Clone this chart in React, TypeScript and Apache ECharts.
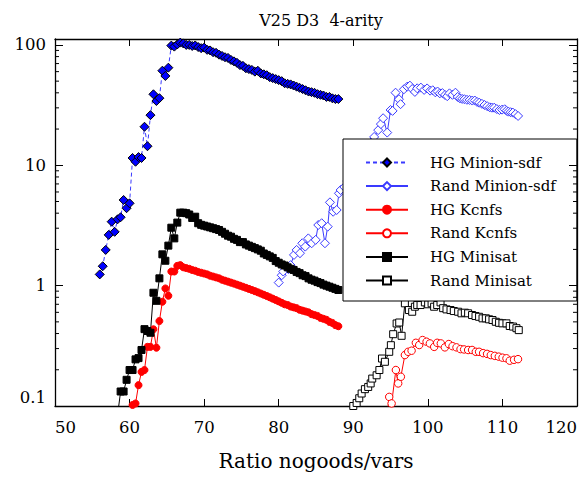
import React, { useEffect, useRef } from "react";
import * as echarts from "echarts";

const TITLE = "V25 D3  4-arity";
const X_NAME = "Ratio nogoods/vars";
const NAMES = ["HG Minion-sdf", "Rand Minion-sdf", "HG Kcnfs", "Rand Kcnfs", "HG Minisat", "Rand Minisat"];

const HG_MINION: [number, number][] = [
  [56.0,1.24],[56.4,1.45],[56.8,1.98],[57.2,2.64],[57.6,3.4],[58.0,2.8],[58.4,3.56],[58.8,3.7],[59.2,5.15],[59.6,4.4],
  [60.0,4.83],[60.4,11.5],[60.8,10.7],[61.2,11.7],[61.6,11.5],[62.0,20.9],[62.4,14.4],[62.8,26.1],[63.2,38.9],[63.6,34.2],
  [64.0,36.1],[64.4,61.1],[64.8,55.2],[65.2,64.7],[65.6,98.7],[66.0,96.8],[66.4,101],[66.8,104.5],[67.2,103],[67.6,100],
  [68.0,100],[68.4,98],[68.8,99],[69.2,96],[69.6,94],[70.0,95],[70.4,91],[70.8,90],[71.2,87],[71.6,86],
  [72.0,83],[72.4,81],[72.8,79],[73.2,78],[73.6,75],[74.0,73],[74.4,71],[74.8,68],[75.2,67],[75.6,64],
  [76.0,63],[76.4,62],[76.8,60],[77.2,61],[77.6,58],[78.0,57],[78.4,56],[78.8,54],[79.2,53],[79.6,52],
  [80.0,51],[80.4,50],[80.8,48],[81.2,47.5],[81.6,47],[82.0,46],[82.4,45],[82.8,44],[83.2,43],[83.6,42],
  [84.0,41],[84.4,40.5],[84.8,40],[85.2,39],[85.6,38.5],[86.0,38],[86.4,37],[86.8,37],[87.2,36],[87.6,35.5],[88.0,35.5]
];

const RAND_MINION: [number, number][] = [
  [80.0,1.06],[80.4,1.22],[80.6,1.31],[81.3,1.37],[81.6,1.48],[82.05,1.8],[82.4,1.98],[82.85,1.86],[83.16,2.25],[83.56,2.11],
  [83.97,2.47],[84.42,2.25],[84.96,2.4],[85.3,3.19],[85.76,3.3],[86.2,2.25],[86.57,3.09],[86.87,4.92],[87.3,4.11],[87.77,4.25],
  [88.08,5.85],[88.3,6.23],[88.8,6.6],[89.2,7.4],[89.6,8.0],[90.0,8.7],[90.4,9.5],[90.8,10.5],[91.2,11.5],[91.6,12.6],
  [92.0,14.0],[92.4,15.5],[92.8,17.2],[93.34,19.6],[93.7,22.0],[94.0,24.6],[94.55,18.7],[95.0,28.8],[95.27,28.3],[95.67,40.1],
  [96.12,35.4],[96.34,32.2],[96.79,42.8],[97.23,45.0],[97.59,45.9],[97.9,43.0],[98.26,40.7],[98.57,43.6],[99.06,44.2],[99.5,42.3],
  [99.9,43.5],[100.3,41.7],[100.65,42.0],[101.0,40.4],[101.3,41.0],[101.6,39.6],[101.95,39.8],[102.3,38.4],[102.6,37.5],[102.9,39.6],
  [103.3,38.5],[103.7,40.1],[104.0,37.0],[104.3,36.0],[104.6,35.6],[104.9,35.4],[105.25,35.0],[105.6,34.9],[105.95,34.5],[106.3,34.5],
  [106.6,33.6],[106.9,33.1],[107.25,32.4],[107.6,31.7],[107.95,31.0],[108.3,30.3],[108.6,30.1],[108.9,30.1],[109.25,29.3],[109.6,28.8],
  [109.95,29.0],[110.3,29.2],[110.55,28.4],[110.8,27.9],[111.1,27.6],[111.4,27.4],[111.75,26.6],[112.1,25.7]
];

const HG_KCNFS: [number, number][] = [
  [60.0,0.085],[60.4,0.102],[60.8,0.105],[61.2,0.149],[61.6,0.192],[62.0,0.199],[62.4,0.31],[62.8,0.31],[63.2,0.434],[63.6,0.305],
  [64.0,0.508],[64.4,0.735],[64.8,0.948],[65.2,0.824],[65.6,1.31],[66.0,1.31],[66.4,1.46],[66.8,1.48],[67.2,1.42],[67.6,1.4],
  [68.0,1.38],[68.4,1.35],[68.8,1.33],[69.2,1.3],[69.6,1.28],[70.0,1.26],[70.4,1.24],[70.8,1.21],[71.2,1.19],[71.6,1.17],
  [72.0,1.15],[72.4,1.12],[72.8,1.1],[73.2,1.08],[73.6,1.06],[74.0,1.04],[74.4,1.02],[74.8,1.0],[75.2,0.98],[75.6,0.96],
  [76.0,0.94],[76.4,0.92],[76.8,0.9],[77.2,0.88],[77.6,0.86],[78.0,0.84],[78.4,0.82],[78.8,0.8],[79.2,0.78],[79.6,0.76],
  [80.0,0.74],[80.4,0.72],[80.8,0.7],[81.2,0.69],[81.6,0.67],[82.0,0.66],[82.4,0.65],[82.8,0.63],[83.2,0.62],[83.6,0.61],
  [84.0,0.6],[84.4,0.58],[84.8,0.57],[85.2,0.56],[85.6,0.54],[86.0,0.53],[86.4,0.52],[86.8,0.5],[87.2,0.49],[87.6,0.47],[88.0,0.46]
];

const RAND_KCNFS: [number, number][] = [
  [94.5,0.08],[94.82,0.119],[95.14,0.105],[95.71,0.199],[96.02,0.154],[96.38,0.175],[96.92,0.265],[97.36,0.282],[97.82,0.288],[98.39,0.335],
  [98.84,0.321],[99.29,0.353],[99.83,0.342],[100.27,0.331],[100.85,0.31],[101.25,0.335],[101.74,0.331],[102.28,0.307],[102.81,0.327],[103.31,0.314],
  [103.84,0.307],[104.38,0.297],[104.86,0.295],[105.4,0.292],[105.93,0.292],[106.43,0.282],[106.87,0.282],[107.41,0.275],[107.94,0.271],[108.44,0.265],
  [108.98,0.261],[109.51,0.257],[110.01,0.252],[110.54,0.249],[110.98,0.238],[111.56,0.242],[112.09,0.245]
];

const HG_MINISAT: [number, number][] = [
  [58.4,0.085],[58.8,0.132],[59.2,0.132],[59.6,0.165],[60.0,0.199],[60.4,0.199],[60.8,0.244],[61.2,0.25],[61.6,0.292],[62.0,0.435],
  [62.4,0.42],[62.8,0.406],[63.2,0.873],[63.6,0.748],[64.0,1.15],[64.4,1.82],[64.8,1.61],[65.2,2.15],[65.6,3.03],[66.0,2.47],
  [66.4,3.34],[66.8,4.04],[67.2,4.04],[67.6,4.0],[68.0,3.9],[68.4,3.65],[68.8,3.74],[69.2,3.3],[69.6,3.2],[70.0,3.15],
  [70.4,3.1],[70.8,3.05],[71.2,3.0],[71.6,2.95],[72.0,2.9],[72.4,2.8],[72.8,2.7],[73.2,2.6],[73.6,2.55],[74.0,2.45],
  [74.4,2.4],[74.8,2.3],[75.2,2.3],[75.6,2.2],[76.0,2.15],[76.4,2.1],[76.8,2.05],[77.2,2.0],[77.6,1.95],[78.0,1.85],
  [78.4,1.8],[78.8,1.75],[79.2,1.7],[79.6,1.6],[80.0,1.55],[80.4,1.5],[80.8,1.47],[81.2,1.42],[81.6,1.38],[82.0,1.35],
  [82.4,1.3],[82.8,1.27],[83.2,1.22],[83.6,1.2],[84.0,1.15],[84.4,1.12],[84.8,1.1],[85.2,1.07],[85.6,1.05],[86.0,1.02],
  [86.4,1.0],[86.8,0.98],[87.2,0.96],[87.6,0.94],[88.0,0.92]
];

const RAND_MINISAT: [number, number][] = [
  [89.11,0.099],[89.6,0.095],[90.0,0.1],[90.45,0.106],[90.8,0.116],[91.12,0.127],[91.56,0.138],[92.0,0.144],[92.33,0.154],[92.54,0.169],
  [93.13,0.18],[93.5,0.199],[93.85,0.248],[94.24,0.233],[94.82,0.282],[95.04,0.32],[95.35,0.395],[95.81,0.485],[96.16,0.494],[96.48,0.383],
  [96.92,0.713],[97.46,0.627],[97.9,0.607],[98.26,0.668],[98.57,0.69],[99.02,0.69],[99.6,0.726],[100.04,0.7],[100.5,0.713],[100.84,0.668],
  [101.25,0.69],[101.7,0.726],[102.05,0.65],[102.5,0.635],[103.04,0.627],[103.48,0.615],[104.06,0.607],[104.51,0.589],[104.96,0.596],[105.4,0.589],
  [105.93,0.57],[106.39,0.559],[106.87,0.551],[107.33,0.535],[107.77,0.535],[108.21,0.525],[108.67,0.518],[109.11,0.501],[109.55,0.491],[110.0,0.486],
  [110.54,0.486],[110.98,0.462],[111.43,0.457],[111.88,0.443],[112.19,0.427]
];

const X_MIN = 50;
const X_MAX = 120;
const X_STEP = 10;
const Y_MIN = 0.1;
const Y_MAX = 112;
const Y_MINOR_TICKS = [0.2,0.3,0.4,0.5,0.6,0.7,0.8,0.9,2,3,4,5,6,7,8,9,20,30,40,50,60,70,80,90];

const FONT = "DejaVu Serif";
const BLUE = "#0000ff";
const BLUE_LINE = "#3a3aff";
const RED = "#ff0000";
const BLACK = "#000000";

export default function App() {
  const ref = useRef<HTMLDivElement>(null);
  useEffect(() => {
    if (!ref.current) return;
    const chart = echarts.init(ref.current, null, { renderer: "svg" });
    const isDecade = (v: number) => Math.abs(Math.log10(v) - Math.round(Math.log10(v))) < 1e-6;
    const xAxisBase = {
      type: "value",
      min: X_MIN,
      max: X_MAX,
      interval: X_STEP,
      splitLine: { show: false },
      axisLine: { show: true, onZero: false, lineStyle: { color: BLACK, width: 1.3 } },
      axisTick: { show: true, inside: true, length: 7, lineStyle: { color: BLACK, width: 1 } },
    };
    const yAxisBase = {
      type: "log",
      logBase: 10,
      min: Y_MIN,
      max: Y_MAX,
      splitLine: { show: false },
      axisLine: { show: true, lineStyle: { color: BLACK, width: 1.3 } },
      axisTick: { show: true, inside: true, length: 8, lineStyle: { color: BLACK, width: 1 } },
    };
    const option: any = {
      animation: false,
      backgroundColor: "#ffffff",
      textStyle: { fontFamily: FONT },
      title: {
        text: TITLE,
        left: 316,
        textAlign: "center",
        top: 7,
        textStyle: { fontFamily: FONT, fontSize: 16, fontWeight: "normal", color: BLACK },
      },
      grid: { left: 55, right: 3, top: 39, bottom: 73, containLabel: false },
      xAxis: [
        {
          ...xAxisBase,
          position: "bottom",
          name: X_NAME,
          nameLocation: "middle",
          nameGap: 45,
          nameTextStyle: { fontFamily: FONT, fontSize: 20, color: BLACK },
          axisLabel: {
            show: true, margin: 13, color: BLACK, fontFamily: FONT, fontSize: 16.5,
            alignMinLabel: "left", alignMaxLabel: "right",
          },
        },
        { ...xAxisBase, position: "top", axisLabel: { show: false } },
      ],
      yAxis: [
        {
          ...yAxisBase,
          position: "left",
          axisLabel: {
            show: true, margin: 9, color: BLACK, fontFamily: FONT, fontSize: 16.5,
            verticalAlignMinLabel: "bottom",
            formatter: (v: number) => (isDecade(v) ? String(Number(v.toPrecision(3))) : ""),
          },
        },
        { ...yAxisBase, position: "right", z: 6, axisLabel: { show: false } },
      ],
      legend: {
        orient: "vertical",
        left: 343,
        top: 139,
        data: NAMES,
        backgroundColor: "#ffffff",
        borderColor: BLACK,
        borderWidth: 1,
        padding: [16, 21, 13, 22],
        itemWidth: 42,
        itemHeight: 10,
        itemGap: 8.6,
        z: 5,
        textStyle: { fontFamily: FONT, fontSize: 15, color: BLACK, lineHeight: 14, padding: [0, 0, 0, 17] },
      },
      series: [
        {
          name: NAMES[0], type: "line", data: HG_MINION, symbol: "diamond", symbolSize: 9,
          lineStyle: { color: BLUE_LINE, width: 1, type: [4, 3] },
          itemStyle: { color: BLUE, borderColor: BLACK, borderWidth: 1 },
        },
        {
          name: NAMES[1], type: "line", data: RAND_MINION, symbol: "diamond", symbolSize: 9,
          lineStyle: { color: BLUE_LINE, width: 1 },
          itemStyle: { color: "#ffffff", borderColor: BLUE_LINE, borderWidth: 1 },
        },
        {
          name: NAMES[2], type: "line", data: HG_KCNFS, symbol: "circle", symbolSize: 7,
          lineStyle: { color: RED, width: 1 },
          itemStyle: { color: RED, borderColor: RED, borderWidth: 1 },
        },
        {
          name: NAMES[3], type: "line", data: RAND_KCNFS, symbol: "circle", symbolSize: 7.5,
          lineStyle: { color: RED, width: 1 },
          itemStyle: { color: "#ffffff", borderColor: RED, borderWidth: 1 },
        },
        {
          name: NAMES[4], type: "line", data: HG_MINISAT, symbol: "rect", symbolSize: 7,
          lineStyle: { color: BLACK, width: 1 },
          itemStyle: { color: BLACK, borderColor: BLACK, borderWidth: 1 },
        },
        {
          name: NAMES[5], type: "line", data: RAND_MINISAT, symbol: "rect", symbolSize: 7,
          lineStyle: { color: BLACK, width: 1 },
          itemStyle: { color: "#ffffff", borderColor: BLACK, borderWidth: 1 },
        },
        {
          name: "minor-ticks",
          type: "custom",
          silent: true,
          z: 7,
          xAxisIndex: 0,
          yAxisIndex: 0,
          encode: { x: 0, y: 1 },
          data: Y_MINOR_TICKS.map((v) => [X_MIN, v]),
          renderItem: (_p: any, api: any) => {
            const l = api.coord([X_MIN, api.value(1)]);
            const r = api.coord([X_MAX, api.value(1)]);
            return {
              type: "group",
              children: [
                { type: "line", shape: { x1: l[0], y1: l[1], x2: l[0] + 4, y2: l[1] }, style: { stroke: BLACK, lineWidth: 1 } },
                { type: "line", shape: { x1: r[0] - 4, y1: r[1], x2: r[0], y2: r[1] }, style: { stroke: BLACK, lineWidth: 1 } },
              ],
            };
          },
        },
      ],
    };
    chart.setOption(option);
    return () => chart.dispose();
  }, []);
  return <div ref={ref} style={{ width: 580, height: 479, position: "absolute", left: 0, top: 0 }} />;
}
